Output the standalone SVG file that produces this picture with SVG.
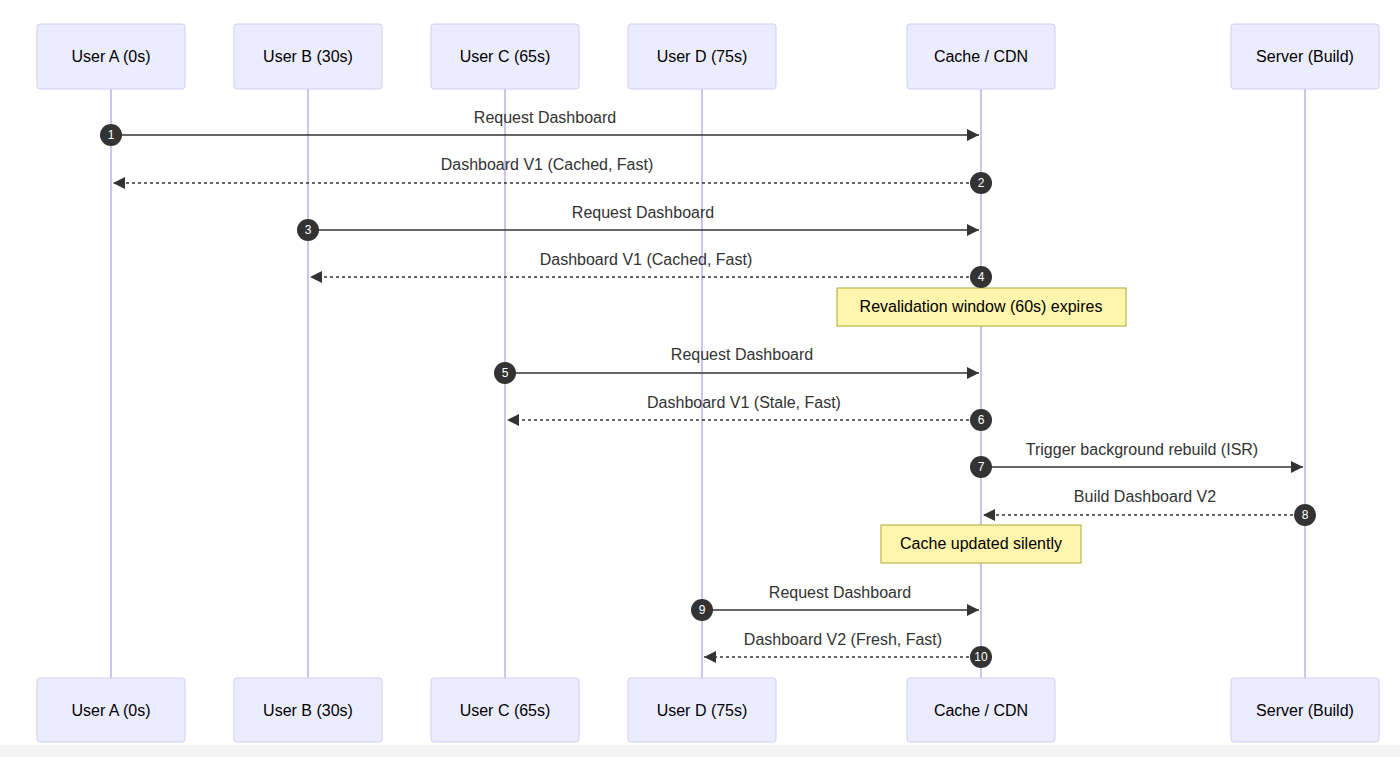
<svg xmlns="http://www.w3.org/2000/svg" width="1400" height="757" viewBox="0 0 1400 757">
<style>
.actor{fill:#ECECFF;stroke:#D4CCF5;stroke-width:1}
.life{stroke:#D0C2F0;stroke-width:2}
.t{font-family:"Liberation Sans",Arial,sans-serif;font-size:16px;fill:#333;text-anchor:middle}
.at{font-family:"Liberation Sans",Arial,sans-serif;font-size:16px;fill:#000;text-anchor:middle}
.m{stroke:#333;stroke-width:1.5;fill:none}
.d{stroke-dasharray:3,3}
.note{fill:#FFF5AD;stroke:#AAAA33;stroke-width:1}
.n{fill:#333}
.nt{font-family:"Liberation Sans",Arial,sans-serif;font-size:12px;fill:#fff;text-anchor:middle}
</style>
<defs>
<marker id="ah" viewBox="0 0 10 10" refX="10" refY="5" markerWidth="8" markerHeight="8" orient="auto"><path d="M0,0 L10,5 L0,10 z" fill="#333"/></marker>
</defs>
<rect width="1400" height="757" fill="#fff"/>
<rect y="745" width="1400" height="12" fill="#f3f3f3"/>
<g id="lifelines">
<line class="life" x1="111" y1="89" x2="111" y2="678"/>
<line class="life" x1="308" y1="89" x2="308" y2="678"/>
<line class="life" x1="505" y1="89" x2="505" y2="678"/>
<line class="life" x1="702" y1="89" x2="702" y2="678"/>
<line class="life" x1="981" y1="89" x2="981" y2="678"/>
<line class="life" x1="1305" y1="89" x2="1305" y2="678"/>
</g>
<g id="actorA"><rect class="actor" x="37" y="24" width="148" height="65" rx="3"/><text class="at" x="111" y="62">User A (0s)</text><rect class="actor" x="37" y="678" width="148" height="64" rx="3"/><text class="at" x="111" y="716">User A (0s)</text></g>
<g id="actorB"><rect class="actor" x="234" y="24" width="148" height="65" rx="3"/><text class="at" x="308" y="62">User B (30s)</text><rect class="actor" x="234" y="678" width="148" height="64" rx="3"/><text class="at" x="308" y="716">User B (30s)</text></g>
<g id="actorC"><rect class="actor" x="431" y="24" width="148" height="65" rx="3"/><text class="at" x="505" y="62">User C (65s)</text><rect class="actor" x="431" y="678" width="148" height="64" rx="3"/><text class="at" x="505" y="716">User C (65s)</text></g>
<g id="actorD"><rect class="actor" x="628" y="24" width="148" height="65" rx="3"/><text class="at" x="702" y="62">User D (75s)</text><rect class="actor" x="628" y="678" width="148" height="64" rx="3"/><text class="at" x="702" y="716">User D (75s)</text></g>
<g id="cache"><rect class="actor" x="907" y="24" width="148" height="65" rx="3"/><text class="at" x="981" y="62">Cache / CDN</text><rect class="actor" x="907" y="678" width="148" height="64" rx="3"/><text class="at" x="981" y="716">Cache / CDN</text></g>
<g id="server"><rect class="actor" x="1231" y="24" width="148" height="65" rx="3"/><text class="at" x="1305" y="62">Server (Build)</text><rect class="actor" x="1231" y="678" width="148" height="64" rx="3"/><text class="at" x="1305" y="716">Server (Build)</text></g>
<g id="note1"><rect class="note" x="837" y="288" width="289" height="38"/><text class="at" x="981" y="312">Revalidation window (60s) expires</text></g>
<g id="note2"><rect class="note" x="881" y="525" width="200" height="38"/><text class="at" x="981" y="549">Cache updated silently</text></g>
<g id="connectors">
<line class="m" x1="111" y1="135" x2="979" y2="135" marker-end="url(#ah)"/><text class="t" x="545" y="123">Request Dashboard</text>
<line class="m d" x1="981" y1="183" x2="113" y2="183" marker-end="url(#ah)"/><text class="t" x="547" y="170">Dashboard V1 (Cached, Fast)</text>
<line class="m" x1="308" y1="230" x2="979" y2="230" marker-end="url(#ah)"/><text class="t" x="643" y="218">Request Dashboard</text>
<line class="m d" x1="981" y1="277" x2="310" y2="277" marker-end="url(#ah)"/><text class="t" x="646" y="265">Dashboard V1 (Cached, Fast)</text>
<line class="m" x1="505" y1="373" x2="979" y2="373" marker-end="url(#ah)"/><text class="t" x="742" y="360">Request Dashboard</text>
<line class="m d" x1="981" y1="420" x2="507" y2="420" marker-end="url(#ah)"/><text class="t" x="744" y="408">Dashboard V1 (Stale, Fast)</text>
<line class="m" x1="981" y1="467" x2="1303" y2="467" marker-end="url(#ah)"/><text class="t" x="1142" y="455">Trigger background rebuild (ISR)</text>
<line class="m d" x1="1305" y1="515" x2="983" y2="515" marker-end="url(#ah)"/><text class="t" x="1145" y="502">Build Dashboard V2</text>
<line class="m" x1="702" y1="610" x2="979" y2="610" marker-end="url(#ah)"/><text class="t" x="840" y="598">Request Dashboard</text>
<line class="m d" x1="981" y1="657" x2="704" y2="657" marker-end="url(#ah)"/><text class="t" x="843" y="645">Dashboard V2 (Fresh, Fast)</text>
</g>
<g id="numbers">
<circle class="n" cx="111" cy="135" r="11"/><text class="nt" x="111" y="139">1</text>
<circle class="n" cx="981" cy="183" r="11"/><text class="nt" x="981" y="187">2</text>
<circle class="n" cx="308" cy="230" r="11"/><text class="nt" x="308" y="234">3</text>
<circle class="n" cx="981" cy="277" r="11"/><text class="nt" x="981" y="281">4</text>
<circle class="n" cx="505" cy="373" r="11"/><text class="nt" x="505" y="377">5</text>
<circle class="n" cx="981" cy="420" r="11"/><text class="nt" x="981" y="424">6</text>
<circle class="n" cx="981" cy="467" r="11"/><text class="nt" x="981" y="471">7</text>
<circle class="n" cx="1305" cy="515" r="11"/><text class="nt" x="1305" y="519">8</text>
<circle class="n" cx="702" cy="610" r="11"/><text class="nt" x="702" y="614">9</text>
<circle class="n" cx="981" cy="657" r="11"/><text class="nt" x="981" y="661">10</text>
</g>
</svg>
